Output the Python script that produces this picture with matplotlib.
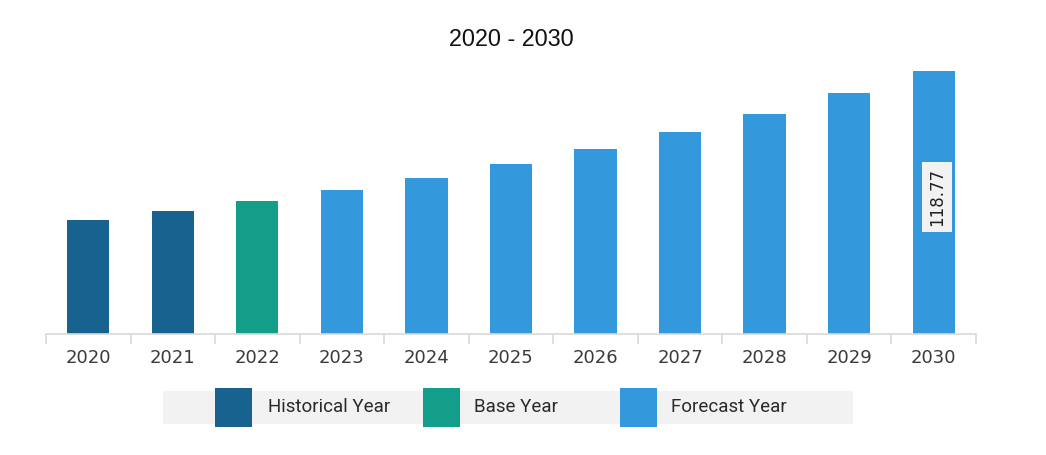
import matplotlib
matplotlib.use("Agg")
import matplotlib.pyplot as plt
from matplotlib.patches import Rectangle
import numpy as np

years = ["2020", "2021", "2022", "2023", "2024", "2025", "2026", "2027", "2028", "2029", "2030"]
values = [51.5, 55.5, 60.1, 65.0, 70.4, 76.8, 83.5, 91.2, 99.3, 108.8, 118.77]
kinds = ["Historical Year", "Historical Year", "Base Year"] + ["Forecast Year"] * 8
kind_colors = {"Historical Year": "#17628F", "Base Year": "#139E8A", "Forecast Year": "#3499DC"}
legend_labels = ["Historical Year", "Base Year", "Forecast Year"]
title = "2020 - 2030"
label_value = "118.77"

plt.rcParams['font.family'] = ['Roboto', 'DejaVu Sans']

W, H = 1046, 455
fig = plt.figure(figsize=(W / 100, H / 100), dpi=100)

def fx(px):
    return px / W

def fy(py):
    return 1 - py / H

ax_left, ax_right, ax_bottom, ax_top = 46, 976, 334, 60
ax = fig.add_axes([fx(ax_left), fy(ax_bottom), fx(ax_right - ax_left), (ax_bottom - ax_top) / H])

x = np.arange(len(years))
colors = [kind_colors[k] for k in kinds]
ax.bar(x, values, width=0.5, color=colors, zorder=2)
ax.set_xlim(-0.5, len(years) - 0.5)
ax.set_ylim(0, values[-1] * (ax_bottom - ax_top) / (ax_bottom - 71))

for s in ["top", "right", "left"]:
    ax.spines[s].set_visible(False)
ax.spines["bottom"].set_color("#d9d9d9")
ax.spines["bottom"].set_linewidth(1.2)
ax.set_yticks([])
ax.set_xticks(x)
ax.set_xticklabels(years, fontsize=13, color="#3a3a3a", fontfamily=["DejaVu Sans"])
ax.tick_params(axis="x", which="major", length=0, pad=11)
ax.set_xticks(np.arange(-0.5, len(years), 1.0), minor=True)
ax.tick_params(axis="x", which="minor", length=7, color="#d9d9d9", width=1.2)

ax.text(0.5, 1 - (40 - ax_top) / (ax_bottom - ax_top), title, transform=ax.transAxes,
        ha="center", va="center", fontsize=16.8, color="#111111",
        fontfamily=["Liberation Sans", "DejaVu Sans"])

# value label on last bar
ax.text(x[-1] + 0.04, values[-1] * 0.52, label_value, rotation=90, ha="center", va="center",
        fontsize=12, color="#222222", fontfamily=["DejaVu Sans"],
        bbox=dict(boxstyle="square,pad=0.35", facecolor="#f2f2f2", edgecolor="none"), zorder=3)

# legend
fig.patches.append(Rectangle((fx(163), fy(424)), fx(853 - 163), (424 - 391) / H,
                             transform=fig.transFigure, facecolor="#f2f2f2", edgecolor="none"))
sw_x = [215, 423, 620]
tx_x = [268, 474, 671]
for lab, sx, tx in zip(legend_labels, sw_x, tx_x):
    fig.patches.append(Rectangle((fx(sx), fy(427)), fx(37), (427 - 388) / H,
                                 transform=fig.transFigure, facecolor=kind_colors[lab], edgecolor="none"))
    fig.text(fx(tx), fy(407.5), lab, fontsize=13.5, color="#2a2a2a", va="center", ha="left")

fig.savefig("out.png", dpi=100)
